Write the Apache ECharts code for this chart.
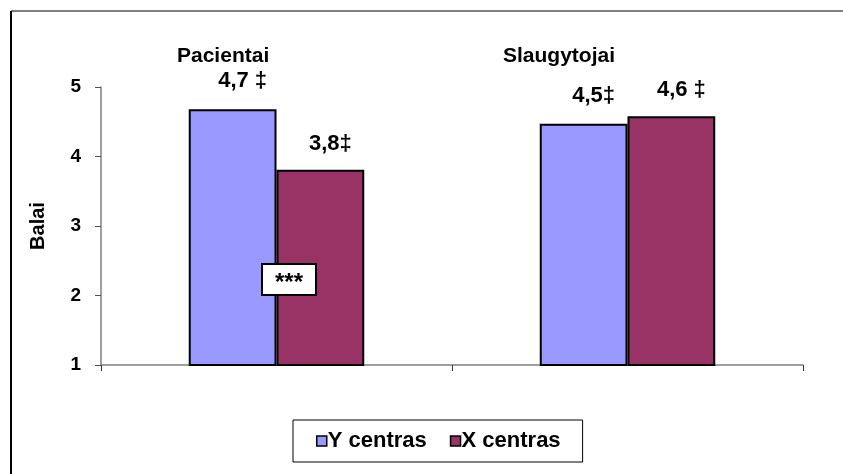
<!DOCTYPE html>
<html>
<head>
<meta charset="utf-8">
<script src="https://cdn.jsdelivr.net/npm/echarts@6/dist/echarts.min.js"></script>
<style>html,body{margin:0;padding:0;background:#fff;}#c{width:843px;height:474px;}</style>
</head>
<body>
<div id="c"></div>
<script>
var categories = ['Pacientai', 'Slaugytojai'];
var seriesNames = ['Y centras', 'X centras'];
var yValues = [4.68, 4.47];
var xValues = [3.81, 4.58];
var yLabels = ['4,7 ‡', '4,5‡'];
var xLabels = ['3,8‡', '4,6 ‡'];
var yTicks = [1, 2, 3, 4, 5];
var note = '***';

var F = 'Arial, "Liberation Sans", sans-serif';
var chart = echarts.init(document.getElementById('c'), null, {renderer: 'canvas'});
function lbl(arr, dist, off) {
  return {
    show: true, position: 'top', distance: dist, offset: off,
    fontFamily: F, fontWeight: 'bold', fontSize: 22, color: '#000',
    formatter: function (p) { return arr[p.dataIndex]; }
  };
}
chart.setOption({
  animation: false,
  backgroundColor: '#fff',
  grid: {left: 101, right: 40, top: 87, bottom: 109},
  xAxis: {
    type: 'category', data: categories,
    axisLine: {lineStyle: {color: '#808080', width: 1.5}},
    axisTick: {show: true, length: 6, lineStyle: {color: '#333'}},
    axisLabel: {show: false}
  },
  yAxis: {
    type: 'value', min: yTicks[0], max: yTicks[yTicks.length - 1], interval: 1,
    name: 'Balai', nameLocation: 'middle', nameRotate: 90, nameGap: 53,
    nameTextStyle: {fontFamily: F, fontWeight: 'bold', fontSize: 20, color: '#000'},
    axisLine: {show: true, lineStyle: {color: '#808080', width: 1.5}},
    axisTick: {show: true, length: 6, lineStyle: {color: '#555'}},
    splitLine: {show: false},
    axisLabel: {margin: 20, fontFamily: F, fontWeight: 'bold', fontSize: 19, color: '#000'}
  },
  legend: {
    data: seriesNames, left: 293, top: 420,
    padding: [10, 22, 10, 23], itemGap: 23, itemWidth: 10, itemHeight: 10,
    borderColor: '#000', borderWidth: 1,
    icon: 'rect',
    itemStyle: {borderColor: '#000', borderWidth: 1.5},
    textStyle: {fontFamily: F, fontWeight: 'bold', fontSize: 22, color: '#000', padding: [0, 0, 0, -4]}
  },
  series: [
    {name: seriesNames[0], type: 'bar', data: yValues, barWidth: '25%', barGap: '0%',
     itemStyle: {color: '#9999FF', borderColor: '#000', borderWidth: 2},
     label: lbl(yLabels, 17, [10, 0])},
    {name: seriesNames[1], type: 'bar', data: xValues, barWidth: '25%', barGap: '0%',
     itemStyle: {color: '#993366', borderColor: '#000', borderWidth: 2},
     label: lbl(xLabels, 15, [10, 0])}
  ],
  graphic: [
    {type: 'line', shape: {x1: 11, y1: 11, x2: 843, y2: 11}, style: {stroke: '#808080', lineWidth: 2}},
    {type: 'line', shape: {x1: 11, y1: 11, x2: 11, y2: 474}, style: {stroke: '#000', lineWidth: 2}},
    {type: 'text', x: 177, y: 46, style: {text: categories[0], font: 'bold 21px ' + F, fill: '#000'}},
    {type: 'text', x: 503, y: 46, style: {text: categories[1], font: 'bold 21px ' + F, fill: '#000'}},
    {type: 'rect', z: 100, shape: {x: 262, y: 264, width: 54, height: 31}, style: {fill: '#fff', stroke: '#000', lineWidth: 2}},
    {type: 'text', z: 101, x: 289, y: 283, style: {text: note, font: 'bold 24px ' + F, fill: '#000', textAlign: 'center', textVerticalAlign: 'middle'}}
  ]
});
</script>
</body>
</html>
